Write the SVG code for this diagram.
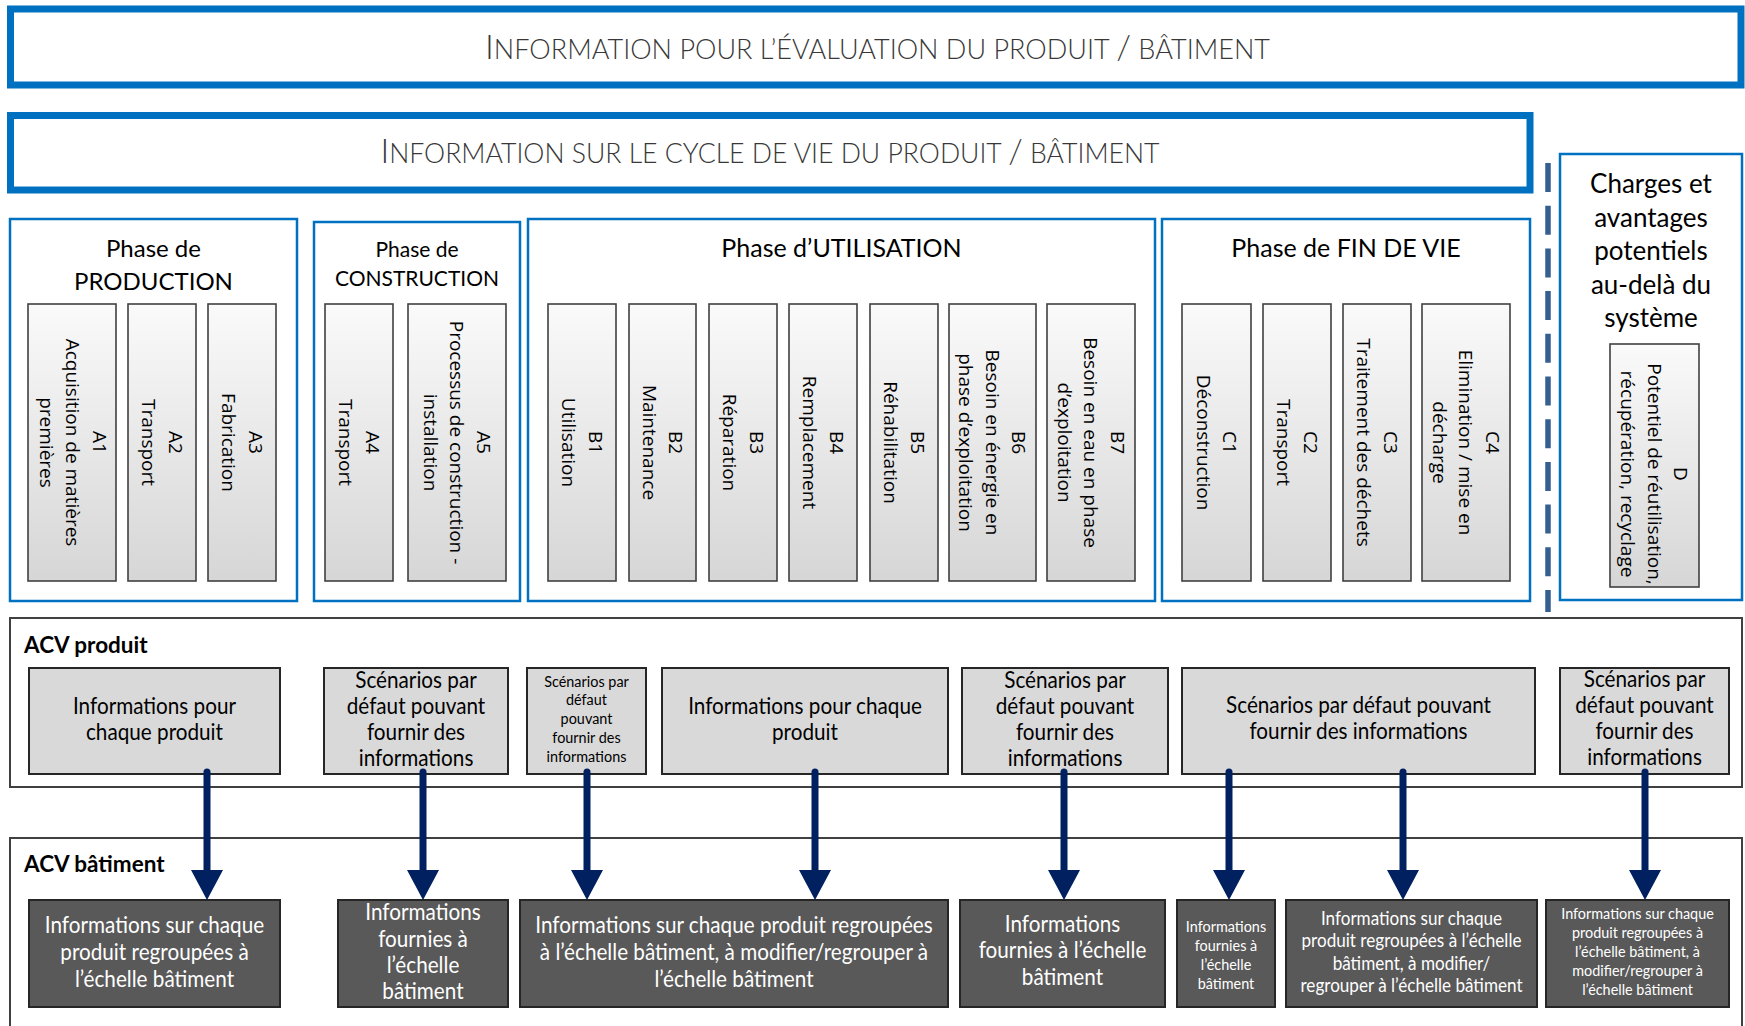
<svg xmlns="http://www.w3.org/2000/svg" width="1745" height="1026" viewBox="0 0 1745 1026">
<style>
.hb{fill:#fff;stroke:#0070C0;stroke-width:7}
.pb{fill:#fff;stroke:#0070C0;stroke-width:2.5}
.mb{fill:url(#mg);stroke:#404040;stroke-width:1.6}
.cb{fill:#fff;stroke:#404040;stroke-width:2}
.lbx{fill:#D9D9D9;stroke:#262626;stroke-width:2}
.dbx{fill:#595959;stroke:#262626;stroke-width:2}
.hdr{font-family:Lato,"Liberation Sans",sans-serif;font-weight:300;fill:#383838;font-size:27px}
.ph{font-family:Lato,"Liberation Sans",sans-serif;fill:#000;font-size:25px;text-anchor:middle}
.mod{font-family:"Open Sans","Noto Sans",sans-serif;fill:#000;font-size:19px;text-anchor:middle}
.lb{font-family:Lato,"Liberation Sans",sans-serif;fill:#000;font-size:23px;text-anchor:middle}
.db{font-family:Lato,"Liberation Sans",sans-serif;fill:#fff;font-size:23px;text-anchor:middle}
.sm{font-size:16px}
.md{font-size:19px}
.acv{font-family:Lato,"Liberation Sans",sans-serif;font-weight:bold;fill:#000;font-size:22.5px}
.arr{stroke:#002060;stroke-width:7;stroke-linecap:round;fill:none;marker-end:url(#ah)}
</style>
<defs>
<linearGradient id="mg" x1="0" y1="0" x2="0" y2="1">
<stop offset="0" stop-color="#FAFAFA"/>
<stop offset="1" stop-color="#D6D6D6"/>
</linearGradient>
<marker id="ah" markerUnits="userSpaceOnUse" viewBox="0 0 30 32" markerWidth="30" markerHeight="32" refX="0" refY="16" orient="auto">
<path d="M0,0 L30,16 L0,32 Z" fill="#002060"/>
</marker>
</defs>

<g id="header1">
<rect class="hb" x="10.5" y="9" width="1730.5" height="76"/>
<text class="hdr" x="877.5" y="59" text-anchor="middle" textLength="785" lengthAdjust="spacingAndGlyphs"><tspan font-size="34">I</tspan>NFORMATION POUR L’ÉVALUATION DU PRODUIT <tspan font-size="34">/</tspan> BÂTIMENT</text>
</g>
<g id="header2">
<rect class="hb" x="10.5" y="115.5" width="1519.5" height="74.5"/>
<text class="hdr" x="770" y="163" text-anchor="middle" textLength="779" lengthAdjust="spacingAndGlyphs"><tspan font-size="34">I</tspan>NFORMATION SUR LE CYCLE DE VIE DU PRODUIT <tspan font-size="34">/</tspan> BÂTIMENT</text>
</g>

<g id="phase-production">
<rect class="pb" x="10" y="219" width="287" height="382"/>
<text class="ph" style="font-size:24px"><tspan x="153.5" y="257">Phase de</tspan><tspan x="153.5" y="290">PRODUCTION</tspan></text>
</g>
<g id="phase-construction">
<rect class="pb" x="314" y="222" width="206" height="379"/>
<text class="ph" style="font-size:21px"><tspan x="417" y="257">Phase de</tspan><tspan x="417" y="286">CONSTRUCTION</tspan></text>
</g>
<g id="phase-utilisation">
<rect class="pb" x="528" y="219" width="627" height="382"/>
<text class="ph" x="841.5" y="257">Phase d’UTILISATION</text>
</g>
<g id="phase-fin-de-vie">
<rect class="pb" x="1162" y="219" width="368" height="382"/>
<text class="ph" x="1346" y="257">Phase de FIN DE VIE</text>
</g>
<g id="charges">
<rect class="pb" x="1560" y="154" width="182" height="446"/>
<text class="ph" style="font-size:26px"><tspan x="1651" y="193">Charges et</tspan><tspan x="1651" y="227">avantages</tspan><tspan x="1651" y="260">potentiels</tspan><tspan x="1651" y="294">au-delà du</tspan><tspan x="1651" y="327">système</tspan></text>
</g>
<g id="separator">
<line x1="1548" y1="163" x2="1548" y2="612" stroke="#365F91" stroke-width="5.5" stroke-dasharray="29 13.7"/>
</g>

<g id="A1"><rect class="mb" x="28" y="304" width="88" height="277"/>
<text class="mod" transform="translate(73 442.5) rotate(90)"><tspan x="0" y="-19.85">A1</tspan><tspan x="0" y="6.65">Acquisition de matières</tspan><tspan x="0" y="33.15">premières</tspan></text></g>
<g id="A2"><rect class="mb" x="128" y="304" width="68" height="277"/>
<text class="mod" transform="translate(162 442.5) rotate(90)"><tspan x="0" y="-6.6">A2</tspan><tspan x="0" y="19.9">Transport</tspan></text></g>
<g id="A3"><rect class="mb" x="208" y="304" width="68" height="277"/>
<text class="mod" transform="translate(242 442.5) rotate(90)"><tspan x="0" y="-6.6">A3</tspan><tspan x="0" y="19.9">Fabrication</tspan></text></g>
<g id="A4"><rect class="mb" x="325" y="304" width="68" height="277"/>
<text class="mod" transform="translate(359 442.5) rotate(90)"><tspan x="0" y="-6.6">A4</tspan><tspan x="0" y="19.9">Transport</tspan></text></g>
<g id="A5"><rect class="mb" x="408" y="304" width="98" height="277"/>
<text class="mod" transform="translate(457 442.5) rotate(90)"><tspan x="0" y="-19.85">A5</tspan><tspan x="0" y="6.65">Processus de construction -</tspan><tspan x="0" y="33.15">installation</tspan></text></g>

<g id="B1"><rect class="mb" x="548" y="304" width="68" height="277"/>
<text class="mod" transform="translate(582 442.5) rotate(90)"><tspan x="0" y="-6.6">B1</tspan><tspan x="0" y="19.9">Utilisation</tspan></text></g>
<g id="B2"><rect class="mb" x="629" y="304" width="67" height="277"/>
<text class="mod" transform="translate(662.5 442.5) rotate(90)"><tspan x="0" y="-6.6">B2</tspan><tspan x="0" y="19.9">Maintenance</tspan></text></g>
<g id="B3"><rect class="mb" x="709" y="304" width="68" height="277"/>
<text class="mod" transform="translate(743 442.5) rotate(90)"><tspan x="0" y="-6.6">B3</tspan><tspan x="0" y="19.9">Réparation</tspan></text></g>
<g id="B4"><rect class="mb" x="789" y="304" width="68" height="277"/>
<text class="mod" transform="translate(823 442.5) rotate(90)"><tspan x="0" y="-6.6">B4</tspan><tspan x="0" y="19.9">Remplacement</tspan></text></g>
<g id="B5"><rect class="mb" x="870" y="304" width="68" height="277"/>
<text class="mod" transform="translate(904 442.5) rotate(90)"><tspan x="0" y="-6.6">B5</tspan><tspan x="0" y="19.9">Réhabilitation</tspan></text></g>
<g id="B6"><rect class="mb" x="949" y="304" width="87" height="277"/>
<text class="mod" transform="translate(992.5 442.5) rotate(90)"><tspan x="0" y="-19.85">B6</tspan><tspan x="0" y="6.65">Besoin en énergie en</tspan><tspan x="0" y="33.15">phase d’exploitation</tspan></text></g>
<g id="B7"><rect class="mb" x="1047" y="304" width="88" height="277"/>
<text class="mod" transform="translate(1091 442.5) rotate(90)"><tspan x="0" y="-19.85">B7</tspan><tspan x="0" y="6.65">Besoin en eau en phase</tspan><tspan x="0" y="33.15">d’exploitation</tspan></text></g>

<g id="C1"><rect class="mb" x="1182" y="304" width="69" height="277"/>
<text class="mod" transform="translate(1216.5 442.5) rotate(90)"><tspan x="0" y="-6.6">C1</tspan><tspan x="0" y="19.9">Déconstruction</tspan></text></g>
<g id="C2"><rect class="mb" x="1263" y="304" width="68" height="277"/>
<text class="mod" transform="translate(1297 442.5) rotate(90)"><tspan x="0" y="-6.6">C2</tspan><tspan x="0" y="19.9">Transport</tspan></text></g>
<g id="C3"><rect class="mb" x="1343" y="304" width="68" height="277"/>
<text class="mod" transform="translate(1377 442.5) rotate(90)"><tspan x="0" y="-6.6">C3</tspan><tspan x="0" y="19.9">Traitement des déchets</tspan></text></g>
<g id="C4"><rect class="mb" x="1422" y="304" width="88" height="277"/>
<text class="mod" transform="translate(1466 442.5) rotate(90)"><tspan x="0" y="-19.85">C4</tspan><tspan x="0" y="6.65">Elimination / mise en</tspan><tspan x="0" y="33.15">décharge</tspan></text></g>
<g id="D"><rect class="mb" x="1610" y="344" width="89" height="243"/>
<text class="mod" transform="translate(1654.5 474) rotate(90)"><tspan x="0" y="-19.85">D</tspan><tspan x="0" y="6.65">Potentiel de réutilisation,</tspan><tspan x="0" y="33.15">récupération, recyclage</tspan></text></g>

<g id="acv-produit">
<rect class="cb" x="10" y="618" width="1732" height="169"/>
<text class="acv" x="24" y="653">ACV produit</text>
</g>
<g id="acv-batiment">
<rect class="cb" x="10" y="838" width="1732" height="200"/>
<text class="acv" x="24" y="872">ACV bâtiment</text>
</g>

<g id="P1"><rect class="lbx" x="29" y="668" width="251" height="106"/>
<text class="lb" transform="translate(154.5 0) scale(0.9 1)"><tspan x="0" y="714">Informations pour</tspan><tspan x="0" y="740">chaque produit</tspan></text></g>
<g id="P2"><rect class="lbx" x="324" y="668" width="184" height="106"/>
<text class="lb" transform="translate(416 0) scale(0.9 1)"><tspan x="0" y="688">Scénarios par</tspan><tspan x="0" y="714">défaut pouvant</tspan><tspan x="0" y="740">fournir des</tspan><tspan x="0" y="766">informations</tspan></text></g>
<g id="P3"><rect class="lbx" x="527" y="668" width="119" height="106"/>
<text class="lb sm" transform="translate(586.5 0) scale(0.9 1)"><tspan x="0" y="687">Scénarios par</tspan><tspan x="0" y="705">défaut</tspan><tspan x="0" y="724">pouvant</tspan><tspan x="0" y="743">fournir des</tspan><tspan x="0" y="762">informations</tspan></text></g>
<g id="P4"><rect class="lbx" x="662" y="668" width="286" height="106"/>
<text class="lb" transform="translate(805 0) scale(0.9 1)"><tspan x="0" y="714">Informations pour chaque</tspan><tspan x="0" y="740">produit</tspan></text></g>
<g id="P5"><rect class="lbx" x="962" y="668" width="206" height="106"/>
<text class="lb" transform="translate(1065 0) scale(0.9 1)"><tspan x="0" y="688">Scénarios par</tspan><tspan x="0" y="714">défaut pouvant</tspan><tspan x="0" y="740">fournir des</tspan><tspan x="0" y="766">informations</tspan></text></g>
<g id="P6"><rect class="lbx" x="1182" y="668" width="353" height="106"/>
<text class="lb" transform="translate(1358.5 0) scale(0.9 1)"><tspan x="0" y="713">Scénarios par défaut pouvant</tspan><tspan x="0" y="739">fournir des informations</tspan></text></g>
<g id="P7"><rect class="lbx" x="1560" y="668" width="169" height="106"/>
<text class="lb" transform="translate(1644.5 0) scale(0.9 1)"><tspan x="0" y="687">Scénarios par</tspan><tspan x="0" y="713">défaut pouvant</tspan><tspan x="0" y="739">fournir des</tspan><tspan x="0" y="765">informations</tspan></text></g>

<g id="D1"><rect class="dbx" x="29" y="900" width="251" height="107"/>
<text class="db" transform="translate(154.5 0) scale(0.9 1)"><tspan x="0" y="933">Informations sur chaque</tspan><tspan x="0" y="960">produit regroupées à</tspan><tspan x="0" y="987">l’échelle bâtiment</tspan></text></g>
<g id="D2"><rect class="dbx" x="338" y="900" width="170" height="107"/>
<text class="db" transform="translate(423 0) scale(0.9 1)"><tspan x="0" y="920">Informations</tspan><tspan x="0" y="947">fournies à</tspan><tspan x="0" y="973">l’échelle</tspan><tspan x="0" y="999">bâtiment</tspan></text></g>
<g id="D3"><rect class="dbx" x="520" y="900" width="428" height="107"/>
<text class="db" transform="translate(734 0) scale(0.9 1)"><tspan x="0" y="933">Informations sur chaque produit regroupées</tspan><tspan x="0" y="960">à l’échelle bâtiment, à modifier/regrouper à</tspan><tspan x="0" y="987">l’échelle bâtiment</tspan></text></g>
<g id="D4"><rect class="dbx" x="960" y="900" width="205" height="107"/>
<text class="db" transform="translate(1062.5 0) scale(0.9 1)"><tspan x="0" y="932">Informations</tspan><tspan x="0" y="958">fournies à l’échelle</tspan><tspan x="0" y="985">bâtiment</tspan></text></g>
<g id="D5"><rect class="dbx" x="1177" y="900" width="98" height="107"/>
<text class="db sm" transform="translate(1226 0) scale(0.9 1)"><tspan x="0" y="932">Informations</tspan><tspan x="0" y="951">fournies à</tspan><tspan x="0" y="970">l’échelle</tspan><tspan x="0" y="989">bâtiment</tspan></text></g>
<g id="D6"><rect class="dbx" x="1286" y="900" width="251" height="107"/>
<text class="db md" transform="translate(1411.5 0) scale(0.9 1)"><tspan x="0" y="925">Informations sur chaque</tspan><tspan x="0" y="947">produit regroupées à l’échelle</tspan><tspan x="0" y="970">bâtiment, à modifier/</tspan><tspan x="0" y="992">regrouper à l’échelle bâtiment</tspan></text></g>
<g id="D7"><rect class="dbx" x="1546" y="900" width="183" height="107"/>
<text class="db sm" transform="translate(1637.5 0) scale(0.9 1)"><tspan x="0" y="919">Informations sur chaque</tspan><tspan x="0" y="938">produit regroupées à</tspan><tspan x="0" y="957">l’échelle bâtiment, à</tspan><tspan x="0" y="976">modifier/regrouper à</tspan><tspan x="0" y="995">l’échelle bâtiment</tspan></text></g>

<g id="connectors">
<line class="arr" x1="207" y1="772" x2="207" y2="870"/>
<line class="arr" x1="423" y1="772" x2="423" y2="870"/>
<line class="arr" x1="587" y1="772" x2="587" y2="870"/>
<line class="arr" x1="815" y1="772" x2="815" y2="870"/>
<line class="arr" x1="1064" y1="772" x2="1064" y2="870"/>
<line class="arr" x1="1229" y1="772" x2="1229" y2="870"/>
<line class="arr" x1="1403" y1="772" x2="1403" y2="870"/>
<line class="arr" x1="1645" y1="772" x2="1645" y2="870"/>
</g>
</svg>
